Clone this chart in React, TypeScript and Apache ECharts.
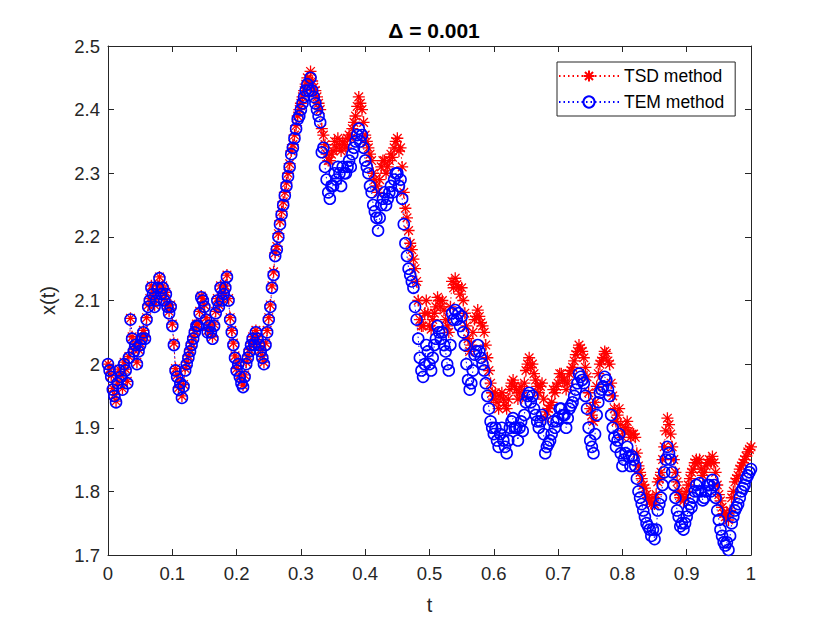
import React, { useEffect, useRef } from "react";
import * as echarts from "echarts";

const STEP = 0.0025;

const temValues: number[] = [
  2.00, 1.99, 1.98, 1.96, 1.95, 1.94, 1.97, 1.99, 1.98, 1.96, 2.00, 1.99, 1.97, 2.01, 2.07, 2.04, 2.02, 2.03, 2.00, 2.02,
  2.03, 2.04, 2.05, 2.04, 2.07, 2.09, 2.10, 2.12, 2.11, 2.09, 2.10, 2.12, 2.135, 2.11, 2.12, 2.10, 2.11, 2.09, 2.08, 2.09,
  2.06, 2.03, 1.99, 1.98, 1.96, 1.97, 1.947, 1.965, 1.99, 2.00, 2.01, 2.02, 2.03, 2.04, 2.05, 2.06, 2.06, 2.08, 2.105, 2.10,
  2.09, 2.07, 2.05, 2.06, 2.05, 2.04, 2.06, 2.08, 2.10, 2.09, 2.12, 2.10, 2.11, 2.12, 2.137, 2.10, 2.07, 2.05, 2.03, 2.01,
  1.99, 2.00, 1.98, 1.97, 1.964, 1.98, 2.00, 2.01, 2.02, 2.03, 2.04, 2.03, 2.05, 2.04, 2.03, 2.02, 2.01, 2.00, 2.03, 2.05,
  2.07, 2.09, 2.12, 2.14, 2.17, 2.18, 2.20, 2.22, 2.235, 2.25, 2.265, 2.28, 2.295, 2.31, 2.33, 2.34, 2.355, 2.37, 2.385, 2.39,
  2.40, 2.41, 2.42, 2.43, 2.44, 2.43, 2.45, 2.43, 2.42, 2.41, 2.40, 2.39, 2.38, 2.333, 2.34, 2.31, 2.29, 2.27, 2.26, 2.28,
  2.28, 2.30, 2.29, 2.31, 2.30, 2.28, 2.31, 2.30, 2.30, 2.31, 2.32, 2.31, 2.33, 2.34, 2.35, 2.36, 2.37, 2.35, 2.36, 2.34,
  2.32, 2.31, 2.30, 2.28, 2.27, 2.25, 2.24, 2.23, 2.21, 2.23, 2.25, 2.26, 2.27, 2.25, 2.26, 2.27, 2.28, 2.27, 2.29, 2.30,
  2.30, 2.28, 2.29, 2.26, 2.22, 2.19, 2.17, 2.15, 2.14, 2.13, 2.12, 2.09, 2.07, 2.04, 2.01, 1.99, 1.98, 2.00, 2.03, 2.02,
  2.00, 1.99, 2.01, 2.03, 2.04, 2.06, 2.05, 2.04, 2.05, 2.03, 2.02, 2.00, 1.99, 2.03, 2.08, 2.07, 2.085, 2.07, 2.08, 2.06,
  2.075, 2.05, 2.03, 2.00, 1.975, 1.96, 1.97, 1.99, 2.015, 2.02, 2.03, 2.02, 2.01, 2.00, 1.99, 1.97, 1.95, 1.93, 1.91, 1.90,
  1.89, 1.90, 1.88, 1.87, 1.89, 1.90, 1.88, 1.87, 1.86, 1.88, 1.90, 1.91, 1.915, 1.90, 1.90, 1.88, 1.90, 1.91, 1.895, 1.92,
  1.94, 1.95, 1.955, 1.94, 1.95, 1.93, 1.92, 1.91, 1.90, 1.91, 1.92, 1.89, 1.86, 1.87, 1.875, 1.88, 1.89, 1.91, 1.90, 1.91,
  1.915, 1.93, 1.93, 1.92, 1.92, 1.90, 1.915, 1.93, 1.935, 1.94, 1.95, 1.96, 1.97, 1.985, 1.98, 1.975, 1.97, 1.95, 1.93, 1.90,
  1.88, 1.87, 1.86, 1.89, 1.92, 1.94, 1.955, 1.96, 1.965, 1.98, 1.975, 1.96, 1.95, 1.92, 1.90, 1.885, 1.87, 1.88, 1.89, 1.86,
  1.84, 1.85, 1.86, 1.87, 1.855, 1.84, 1.855, 1.85, 1.84, 1.82, 1.80, 1.79, 1.78, 1.77, 1.76, 1.75, 1.745, 1.74, 1.73, 1.74,
  1.725, 1.74, 1.77, 1.78, 1.79, 1.81, 1.83, 1.85, 1.87, 1.86, 1.85, 1.83, 1.81, 1.79, 1.77, 1.76, 1.745, 1.75, 1.74, 1.75,
  1.76, 1.77, 1.78, 1.775, 1.79, 1.80, 1.81, 1.80, 1.813, 1.80, 1.786, 1.79, 1.80, 1.81, 1.81, 1.80, 1.818, 1.81, 1.79, 1.77,
  1.755, 1.74, 1.73, 1.72, 1.715, 1.72, 1.708, 1.73, 1.75, 1.76, 1.77, 1.775, 1.78, 1.79, 1.80, 1.805, 1.81, 1.82, 1.825, 1.83,
  1.835,
];

const tsdValues: number[] = [
  2.00, 1.992, 1.982, 1.962, 1.952, 1.942, 1.972, 1.992, 1.983, 1.962, 2.003, 1.992, 1.973, 2.012, 2.072, 2.043, 2.023, 2.033, 2.003, 2.023,
  2.033, 2.043, 2.053, 2.043, 2.073, 2.093, 2.103, 2.123, 2.113, 2.093, 2.103, 2.123, 2.137, 2.113, 2.123, 2.103, 2.113, 2.093, 2.083, 2.093,
  2.063, 2.033, 1.993, 1.983, 1.963, 1.973, 1.95, 1.968, 1.993, 2.003, 2.013, 2.023, 2.033, 2.043, 2.053, 2.063, 2.063, 2.083, 2.107, 2.103,
  2.093, 2.073, 2.053, 2.063, 2.053, 2.043, 2.063, 2.083, 2.103, 2.093, 2.123, 2.103, 2.113, 2.123, 2.14, 2.103, 2.073, 2.053, 2.033, 2.013,
  1.993, 2.003, 1.983, 1.973, 1.967, 1.983, 2.003, 2.013, 2.023, 2.033, 2.043, 2.033, 2.053, 2.043, 2.033, 2.023, 2.013, 2.003, 2.033, 2.053,
  2.073, 2.093, 2.123, 2.145, 2.175, 2.185, 2.205, 2.225, 2.24, 2.255, 2.27, 2.285, 2.30, 2.315, 2.335, 2.345, 2.36, 2.375, 2.39, 2.40,
  2.41, 2.42, 2.43, 2.44, 2.45, 2.445, 2.46, 2.445, 2.435, 2.43, 2.42, 2.41, 2.40, 2.37, 2.36, 2.345, 2.33, 2.32, 2.32, 2.33,
  2.335, 2.35, 2.34, 2.355, 2.345, 2.335, 2.35, 2.345, 2.34, 2.355, 2.36, 2.355, 2.37, 2.38, 2.39, 2.405, 2.42, 2.41, 2.40, 2.38,
  2.36, 2.35, 2.34, 2.33, 2.32, 2.30, 2.29, 2.28, 2.27, 2.29, 2.31, 2.32, 2.32, 2.30, 2.31, 2.32, 2.33, 2.325, 2.34, 2.35,
  2.355, 2.335, 2.34, 2.31, 2.27, 2.245, 2.23, 2.21, 2.19, 2.18, 2.165, 2.15, 2.13, 2.10, 2.07, 2.06, 2.06, 2.08, 2.10, 2.08,
  2.06, 2.055, 2.07, 2.08, 2.09, 2.105, 2.10, 2.09, 2.10, 2.085, 2.07, 2.06, 2.05, 2.09, 2.13, 2.12, 2.135, 2.125, 2.12, 2.11,
  2.12, 2.10, 2.08, 2.06, 2.04, 2.02, 2.03, 2.05, 2.07, 2.075, 2.085, 2.075, 2.065, 2.06, 2.05, 2.03, 2.01, 1.99, 1.97, 1.955,
  1.945, 1.955, 1.94, 1.93, 1.95, 1.955, 1.945, 1.935, 1.93, 1.945, 1.96, 1.97, 1.975, 1.965, 1.96, 1.945, 1.955, 1.965, 1.95, 1.97,
  1.99, 2.00, 2.01, 1.995, 2.00, 1.985, 1.975, 1.965, 1.955, 1.965, 1.97, 1.945, 1.915, 1.925, 1.93, 1.935, 1.94, 1.96, 1.955, 1.965,
  1.97, 1.985, 1.985, 1.975, 1.975, 1.96, 1.97, 1.985, 1.99, 1.995, 2.005, 2.015, 2.02, 2.03, 2.025, 2.02, 2.01, 1.995, 1.98, 1.955,
  1.93, 1.92, 1.91, 1.94, 1.965, 1.985, 2.00, 2.005, 2.01, 2.02, 2.017, 2.005, 2.00, 1.97, 1.95, 1.93, 1.91, 1.92, 1.93, 1.905,
  1.885, 1.895, 1.90, 1.91, 1.895, 1.885, 1.89, 1.89, 1.885, 1.86, 1.84, 1.83, 1.82, 1.81, 1.805, 1.795, 1.79, 1.785, 1.78, 1.79,
  1.78, 1.795, 1.815, 1.82, 1.83, 1.85, 1.87, 1.895, 1.915, 1.905, 1.89, 1.87, 1.85, 1.83, 1.815, 1.80, 1.79, 1.795, 1.785, 1.79,
  1.80, 1.81, 1.82, 1.83, 1.835, 1.845, 1.85, 1.845, 1.85, 1.835, 1.825, 1.83, 1.84, 1.845, 1.85, 1.845, 1.855, 1.845, 1.83, 1.81,
  1.795, 1.785, 1.775, 1.765, 1.76, 1.765, 1.755, 1.77, 1.79, 1.80, 1.815, 1.82, 1.825, 1.835, 1.84, 1.845, 1.85, 1.855, 1.862, 1.866,
  1.87,
];

const xTicks = { min: 0, max: 1, interval: 0.1 };
const yTicks = { min: 1.7, max: 2.5, interval: 0.1 };

const toPairs = (vals: number[]) =>
  vals.map((v, i) => [Number((i * STEP).toFixed(4)), v]);

const STAR =
  "path://M0,-5L0,5M-5,0L5,0M-3.6,-3.6L3.6,3.6M-3.6,3.6L3.6,-3.6";

const FONT = "Liberation Sans, Arial, Helvetica, sans-serif";
const AXIS_COLOR = "#262626";

export default function App() {
  const ref = useRef<HTMLDivElement>(null);

  useEffect(() => {
    if (!ref.current) return;
    const chart = echarts.init(ref.current, undefined, { renderer: "svg" });
    const axisLineStyle = { color: AXIS_COLOR, width: 1 };
    const option: any = {
      animation: false,
      backgroundColor: "#fff",
      textStyle: { fontFamily: FONT },
      title: {
        text: "Δ = 0.001",
        left: 429,
        textAlign: "center",
        top: 15,
        textStyle: { fontFamily: FONT, fontSize: 21, fontWeight: "bold", color: "#000" },
      },
      grid: { left: 108, top: 46, right: 79, bottom: 68, containLabel: false },
      legend: {
        left: 557,
        top: 62,
        orient: "vertical",
        backgroundColor: "#fff",
        borderColor: AXIS_COLOR,
        borderWidth: 1,
        padding: [5, 11, 5, 1],
        itemGap: 8,
        itemWidth: 60,
        itemHeight: 14,
        textStyle: { fontFamily: FONT, fontSize: 17.5, color: "#000" },
        data: ["TSD method", "TEM method"],
      },
      xAxis: [
        {
          type: "value",
          min: xTicks.min,
          max: xTicks.max,
          interval: xTicks.interval,
          name: "t",
          nameLocation: "middle",
          nameGap: 40,
          nameTextStyle: { fontFamily: FONT, fontSize: 20, color: AXIS_COLOR },
          axisLine: { show: true, onZero: false, lineStyle: axisLineStyle },
          axisTick: { show: true, inside: true, length: 6, lineStyle: axisLineStyle },
          axisLabel: { fontFamily: FONT, fontSize: 18.5, color: AXIS_COLOR, margin: 9 },
          splitLine: { show: false },
        },
        {
          type: "value",
          position: "top",
          min: xTicks.min,
          max: xTicks.max,
          interval: xTicks.interval,
          axisLine: { show: true, onZero: false, lineStyle: axisLineStyle },
          axisTick: { show: true, inside: true, length: 6, lineStyle: axisLineStyle },
          axisLabel: { show: false },
          splitLine: { show: false },
        },
      ],
      yAxis: [
        {
          type: "value",
          min: yTicks.min,
          max: yTicks.max,
          interval: yTicks.interval,
          name: "x(t)",
          nameLocation: "middle",
          nameGap: 50,
          nameTextStyle: { fontFamily: FONT, fontSize: 20, color: AXIS_COLOR },
          axisLine: { show: true, onZero: false, lineStyle: axisLineStyle },
          axisTick: { show: true, inside: true, length: 6, lineStyle: axisLineStyle },
          axisLabel: { fontFamily: FONT, fontSize: 18.5, color: AXIS_COLOR, margin: 8 },
          splitLine: { show: false },
        },
        {
          type: "value",
          position: "right",
          min: yTicks.min,
          max: yTicks.max,
          interval: yTicks.interval,
          axisLine: { show: true, onZero: false, lineStyle: axisLineStyle },
          axisTick: { show: true, inside: true, length: 6, lineStyle: axisLineStyle },
          axisLabel: { show: false },
          splitLine: { show: false },
        },
      ],
      series: [
        {
          name: "TSD method",
          type: "line",
          xAxisIndex: 0,
          yAxisIndex: 0,
          data: toPairs(tsdValues),
          symbol: STAR,
          symbolSize: 12,
          showAllSymbol: true,
          lineStyle: { color: "#ff0000", width: 1, type: [1.5, 3] },
          itemStyle: { color: "#ff0000", borderColor: "#ff0000", borderWidth: 1.3 },
        },
        {
          name: "TEM method",
          type: "line",
          xAxisIndex: 0,
          yAxisIndex: 0,
          data: toPairs(temValues),
          symbol: "circle",
          symbolSize: 11,
          showAllSymbol: true,
          lineStyle: { color: "#0000ff", width: 1, type: [1.5, 3] },
          itemStyle: { color: "rgba(0,0,0,0)", borderColor: "#0000ff", borderWidth: 1.6 },
        },
      ],
    };
    chart.setOption(option);
    return () => chart.dispose();
  }, []);

  return (
    <div
      ref={ref}
      style={{ position: "fixed", left: 0, top: 0, width: 830, height: 623 }}
    />
  );
}
